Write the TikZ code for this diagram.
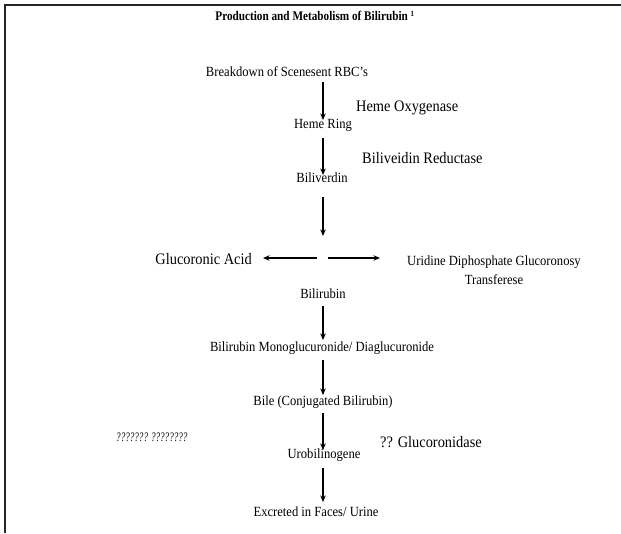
\documentclass[tikz,border=0pt]{standalone}
\usepackage{fontspec}
\usetikzlibrary{arrows.meta}
\setmainfont[FakeStretch=0.9]{Liberation Serif}
\newfontfamily\widefont[FakeStretch=0.9]{Liberation Serif}
\newfontfamily\narrowfont[FakeStretch=0.85]{Liberation Serif}
\newfontfamily\squeezefont[FakeStretch=0.7]{Liberation Serif}
\begin{document}
\begin{tikzpicture}[x=1pt,y=-1pt,
  lbl/.style={inner sep=0pt,font=\fontsize{14}{16}\selectfont},
  big/.style={inner sep=0pt,font=\widefont\fontsize{16}{18}\selectfont},
  arr/.style={-{Stealth[length=6.5pt,width=5.5pt]},line width=1.2pt}]
\useasboundingbox (0,0) rectangle (621,533);
\draw[line width=1.8pt,black!85] (621,5) -- (5,5) -- (5,533);
\node[inner sep=0pt,font=\narrowfont\bfseries\fontsize{13.2}{15}\selectfont] (title) at (315,16) {Production and Metabolism of Bilirubin \textsuperscript{\fontsize{8}{9}\selectfont 1}};
\node[lbl] (rbc) at (287,72) {Breakdown of Scenesent RBC's};
\node[lbl] (heme) at (323,125) {Heme Ring};
\node[lbl] (bv) at (322,178) {Biliverdin};
\coordinate (split) at (323,236);
\coordinate (splitl) at (317,258);
\coordinate (splitr) at (328,258);
\coordinate (ltip) at (263,258);
\coordinate (rtip) at (380,258);
\node[big,anchor=east] (ga) at (252,259) {Glucoronic Acid};
\node[lbl,align=center] (udp) at (494,270) {Uridine Diphosphate Glucoronosy\\[3pt]Transferese};
\node[lbl] (br) at (323,294) {Bilirubin};
\node[lbl] (mono) at (322,348) {Bilirubin Monoglucuronide/ Diaglucuronide};
\node[lbl] (bile) at (323,402) {Bile (Conjugated Bilirubin)};
\node[lbl] (uro) at (324,455) {Urobilinogene};
\node[lbl] (exc) at (316,512) {Excreted in Faces/ Urine};
\node[big,anchor=west] (ho) at (356,108) {Heme Oxygenase};
\node[big,anchor=west] (bred) at (362,158) {Biliveidin Reductase};
\node[big,anchor=west] (gluc) at (380,442) {?? Glucoronidase};
\node[inner sep=0pt,anchor=west,font=\squeezefont\itshape\fontsize{13}{15}\selectfont] (q) at (116,437) {??????? ????????};
\draw[arr] (323,82) -- (323,120);
\draw[arr] (323,138) -- (323,175);
\draw[arr] (323,197) -- (split);
\draw[arr] (splitl) -- (ltip);
\draw[arr] (splitr) -- (rtip);
\draw[arr] (323,306) -- (323,340);
\draw[arr] (323,360) -- (323,395);
\draw[arr] (323,413) -- (323,450);
\draw[arr] (323,468) -- (323,502);
\end{tikzpicture}
\end{document}
